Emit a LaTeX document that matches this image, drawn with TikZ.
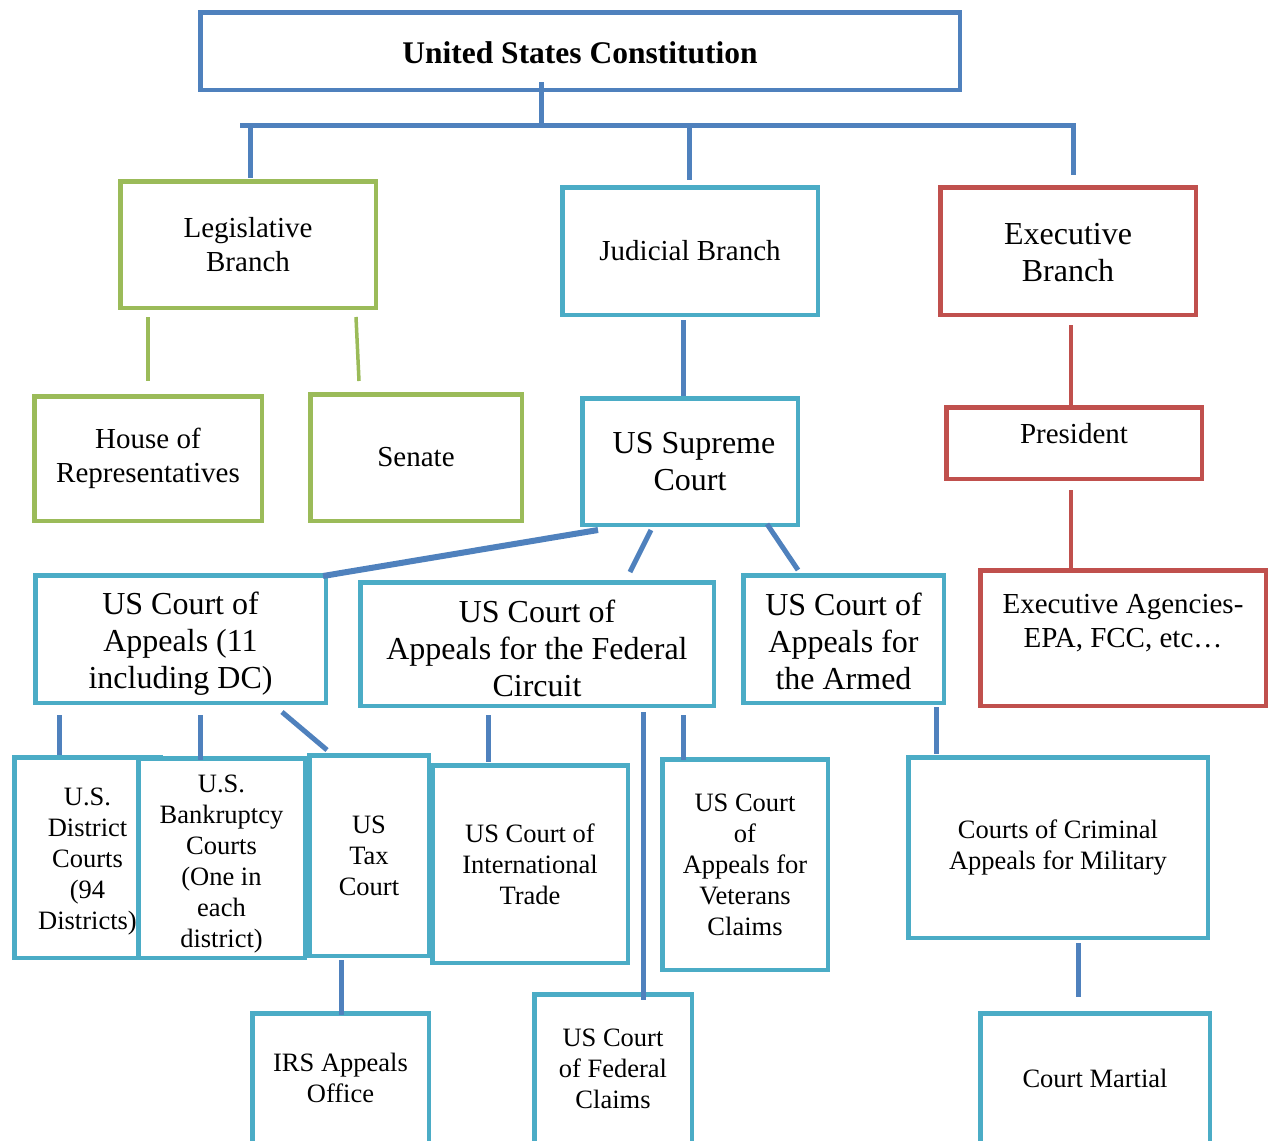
\documentclass[tikz,border=0pt]{standalone}
\usepackage{fontspec}
\setmainfont{Liberation Serif}
\definecolor{cblue}{HTML}{4F81BD}
\definecolor{cgreen}{HTML}{9BBB59}
\definecolor{ccyan}{HTML}{4BACC6}
\definecolor{cred}{HTML}{C0504D}
\tikzset{
  box/.style={draw, line width=4.5pt, fill=white, align=center, inner sep=0pt},
  bbox/.style={box, draw=cblue},
  gbox/.style={box, draw=cgreen},
  cbox/.style={box, draw=ccyan},
  rbox/.style={box, draw=cred},
  sz/.style 2 args={minimum width=#1pt-4.5pt, minimum height=#2pt-4.5pt},
  fA/.style={font=\fontsize{29}{34}\selectfont},
  fB/.style={font=\fontsize{32}{37}\selectfont},
  fC/.style={font=\fontsize{26.5}{31}\selectfont},
  conn/.style={draw=cblue, line width=5pt},
  gconn/.style={draw=cgreen, line width=3.5pt},
  rconn/.style={draw=cred, line width=4.5pt},
}
\begin{document}
\begin{tikzpicture}[x=1pt, y=-1pt]
\clip (0,0) rectangle (1270,1141);
\fill[white] (0,0) rectangle (1270,1141);
% top
\node[bbox, sz={764}{82}, font=\fontsize{31.5}{36}\selectfont\bfseries] (const) at (580,51) {\rule{0pt}{25pt}United States Constitution};
% branches
\node[gbox, sz={260}{131}, fA] (leg) at (248,244.5) {Legislative\\Branch};
\node[cbox, sz={260}{132}, fA] (jud) at (690,251) {Judicial Branch};
\node[rbox, sz={260}{132}, fB] (exe) at (1068,251) {\rule{0pt}{25pt}Executive\\Branch};
% second level
\node[gbox, sz={232}{129}, fA] (house) at (148,458.5) {House of\\Representatives};
\node[gbox, sz={216}{131}, fA] (senate) at (416,457.5) {Senate};
\node[cbox, sz={220}{131}, fB] (sup) at (690,461.5) {\hspace*{8pt}US Supreme\\Court};
\node[rbox, sz={260}{76}, fA, text depth=20pt] (pres) at (1074,443) {President};
\node[rbox, sz={290}{140}, fA] (agen) at (1123,638) {Executive Agencies-\\EPA, FCC, etc…\\\mbox{}};
% appeals level
\node[cbox, sz={295}{132}, fB] (app) at (180.5,639) {\rule{0pt}{32pt}US Court of\\Appeals (11\\including DC)};
\node[cbox, sz={358}{128}, fB] (fed) at (537,644) {\rule{0pt}{32pt}US Court of\\Appeals for the Federal\\Circuit};
\node[cbox, sz={205}{132}, fB] (arm) at (843.5,639) {\rule{0pt}{28pt}US Court of\\Appeals for\\the Armed};
% trial level
\node[cbox, sz={151}{205}, fC] (dist) at (87.5,857.5) {\rule{0pt}{25pt}U.S.\\District\\Courts\\(94\\Districts)};
\node[cbox, sz={171}{204}, fC] (bank) at (221.5,858) {\rule{0pt}{30pt}U.S.\\Bankruptcy\\Courts\\(One in\\each\\district)};
\node[cbox, sz={124}{205}, fC] (tax) at (369,855.5) {US\\Tax\\Court};
\node[cbox, sz={200}{202}, fC] (intl) at (530,864) {US Court of\\International\\Trade};
\node[cbox, sz={170}{215}, fC] (vet) at (745,864.5) {US Court\\of\\Appeals for\\Veterans\\Claims};
\node[cbox, sz={304}{185}, fC] (crim) at (1058,847.5) {Courts of Criminal\\Appeals for Military};
% bottom
\node[cbox, sz={181}{134}, fC] (irs) at (340.5,1078) {IRS Appeals\\Office};
\node[cbox, sz={162}{153}, fC] (fcl) at (613,1068.5) {US Court\\of Federal\\Claims};
\node[cbox, sz={234}{134}, fC] (cm) at (1095,1078) {Court Martial};
% connectors: constitution bus
\coordinate (busL) at (240,125);
\coordinate (busR) at (1073,125);
\draw[conn] ([xshift=-39pt,yshift=10pt]const.south) -- ([xshift=-39pt]const.south |- busL);
\draw[conn] (busL) -- (busR) -- ([yshift=10pt]exe.north -| busR);
\draw[conn] ([xshift=2pt]leg.north |- busL) -- ([xshift=2pt,yshift=1pt]leg.north);
\draw[conn] ([xshift=-1pt]jud.north |- busL) -- ([xshift=-1pt,yshift=5pt]jud.north);
% legislative
\draw[gconn] ([yshift=-7pt]leg.south -| house.north) -- ([yshift=13pt]house.north);
\draw[gconn] ([xshift=108pt,yshift=-7pt]leg.south) -- ([xshift=-57pt,yshift=11pt]senate.north);
% judicial
\draw[conn] ([xshift=-7pt,yshift=-3pt]jud.south) -- ([xshift=-7pt]sup.north);
\draw[conn, line width=6pt] ([xshift=-92pt,yshift=-3pt]sup.south) -- ([xshift=-5pt,yshift=-3pt]app.north east);
\draw[conn] ([xshift=-39pt,yshift=-3pt]sup.south) -- ([xshift=93pt,yshift=8pt]fed.north);
\draw[conn] ([xshift=77pt,yshift=3pt]sup.south) -- ([xshift=-45.5pt,yshift=3pt]arm.north);
\draw[conn] ([xshift=-121.5pt,yshift=-10pt]app.south) -- ([xshift=-28.5pt]dist.north);
\draw[conn] ([xshift=19.5pt,yshift=-10pt]app.south) -- ([xshift=-21.5pt,yshift=-4pt]bank.north);
\draw[conn] ([xshift=101.5pt,yshift=-7pt]app.south) -- ([xshift=-42pt,yshift=3pt]tax.north);
\draw[conn] ([xshift=-49pt,yshift=-7pt]fed.south) -- ([xshift=-42pt,yshift=1pt]intl.north);
\draw[conn] ([xshift=106pt,yshift=-4pt]fed.south) -- ([xshift=30pt,yshift=-8pt]fcl.north);
\draw[conn] ([xshift=146pt,yshift=-7pt]fed.south) -- ([xshift=-62pt,yshift=-3pt]vet.north);
\draw[conn] ([xshift=92.5pt,yshift=-2pt]arm.south) -- ([xshift=-122pt,yshift=1pt]crim.north);
\draw[conn] ([xshift=-28pt,yshift=-2pt]tax.south) -- ([xshift=0.5pt,yshift=-4pt]irs.north);
\draw[conn] ([xshift=20pt,yshift=-3pt]crim.south) -- ([xshift=-17pt,yshift=14pt]cm.north);
% executive
\draw[rconn] ([xshift=3pt,yshift=-8pt]exe.south) -- ([xshift=-3pt]pres.north);
\draw[rconn] ([xshift=-3pt,yshift=-9pt]pres.south) -- ([xshift=-52pt,yshift=-4pt]agen.north);
\end{tikzpicture}
\end{document}
